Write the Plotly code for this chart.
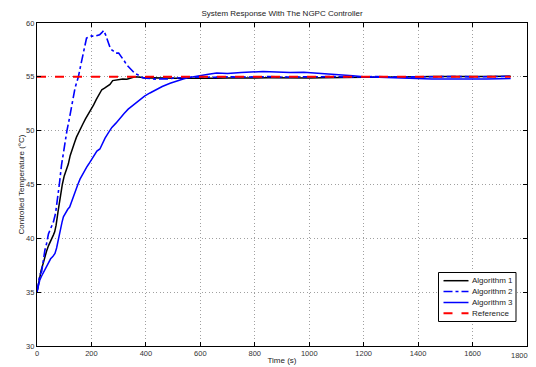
import plotly.graph_objects as go

# ---- data ----
t_alg1 = [0, 5, 10, 15, 23, 30, 35, 42, 48, 55, 60, 65, 70, 78, 85, 93, 100, 108, 115, 122, 130,
          138, 145, 152, 158, 168, 178, 188, 198, 208, 218, 228, 238, 248, 258, 268, 278, 290,
          300, 315, 330, 345, 360, 380, 400, 420, 450, 480, 510, 550, 600, 650, 700, 750, 800,
          850, 900, 950, 1000, 1050, 1100, 1150, 1200, 1250, 1300, 1350, 1400, 1450, 1500,
          1550, 1600, 1650, 1700, 1740]
alg1 = [35.0, 35.8, 36.4, 37.0, 37.7, 38.4, 38.8, 39.3, 39.7, 40.1, 40.3, 40.6, 41.2, 42.6, 43.8,
        45.0, 45.8, 46.3, 46.9, 47.7, 48.4, 48.9, 49.4, 49.8, 50.1, 50.6, 51.1, 51.5, 51.9,
        52.4, 52.9, 53.3, 53.8, 53.95, 54.1, 54.3, 54.65, 54.7, 54.72, 54.8, 54.78, 54.9,
        55.0, 54.95, 54.9, 54.92, 54.88, 54.9, 54.86, 54.88, 54.85, 54.87, 54.9, 54.88,
        54.9, 54.92, 54.9, 54.93, 54.9, 54.92, 54.95, 54.93, 54.96, 54.97, 55.0, 54.98,
        55.0, 55.02, 55.0, 55.02, 55.03, 55.02, 55.05, 55.05]

t_alg2 = [0, 5, 10, 17, 23, 29, 35, 42, 50, 60, 68, 75, 82, 90, 100, 110, 118, 125, 132, 140,
          146, 152, 160, 168, 175, 182, 190, 200, 210, 220, 230, 238, 245, 252, 260, 270, 280,
          290, 300, 310, 320, 330, 340, 350, 360, 370, 380, 390, 405, 420, 440, 460, 480,
          500, 530, 560, 600, 650, 700, 750, 800, 850, 900, 950, 1000, 1050, 1100, 1150,
          1200, 1250, 1300, 1350, 1400, 1450, 1500, 1550, 1600, 1650, 1700, 1740]
alg2 = [35.0, 36.0, 36.6, 36.9, 38.0, 38.9, 39.5, 40.4, 40.9, 41.5, 42.3, 43.5, 45.0, 46.8,
        48.5, 50.0, 51.0, 52.0, 53.0, 54.0, 54.5, 55.0, 56.0, 57.0, 57.9, 58.6, 58.7, 58.8,
        58.75, 58.85, 58.9, 59.1, 59.3, 58.9, 58.3, 57.6, 57.4, 57.2, 57.2, 56.9, 56.5,
        56.1, 55.8, 55.6, 55.3, 55.2, 55.0, 54.9, 54.85, 54.8, 54.78, 54.82, 54.8, 54.88,
        54.92, 54.95, 55.0, 54.95, 55.0, 54.97, 55.0, 55.02, 54.98, 55.0, 54.97, 55.0, 55.02,
        54.98, 55.0, 55.03, 54.98, 55.0, 55.02, 54.98, 55.0, 55.03, 55.0, 55.02, 55.0, 55.05]

t_alg3 = [0, 5, 10, 17, 23, 30, 36, 42, 50, 58, 66, 72, 78, 85, 92, 97, 105, 113, 120, 127,
          135, 142, 150, 158, 166, 174, 182, 190, 201, 210, 220, 231, 240, 250, 262, 275,
          290, 305, 320, 335, 350, 365, 378, 395, 415, 435, 460, 489, 510, 537, 560, 599,
          630, 660, 700, 750, 800, 830, 880, 930, 980, 1030, 1076, 1120, 1160, 1200, 1250,
          1300, 1350, 1400, 1450, 1500, 1550, 1600, 1650, 1700, 1740]
alg3 = [35.0, 35.7, 36.1, 36.5, 36.8, 37.2, 37.5, 37.8, 38.1, 38.3, 38.6, 39.1, 39.9, 40.8,
        41.5, 42.0, 42.4, 42.7, 42.9, 43.4, 44.0, 44.6, 45.0, 45.5, 45.9, 46.3, 46.6, 46.9,
        47.3, 47.7, 48.1, 48.3, 48.8, 49.3, 49.8, 50.3, 50.7, 51.1, 51.6, 52.0, 52.3, 52.6,
        52.85, 53.2, 53.5, 53.8, 54.1, 54.4, 54.6, 54.8, 54.95, 55.15, 55.25, 55.35, 55.3,
        55.4, 55.45, 55.5, 55.45, 55.4, 55.42, 55.35, 55.25, 55.2, 55.1, 55.0, 54.95, 54.9,
        54.85, 54.82, 54.8, 54.8, 54.78, 54.8, 54.8, 54.82, 54.85]

t_ref = [0, 1740]
ref = [55.0, 55.0]

x_ticks = [0, 200, 400, 600, 800, 1000, 1200, 1400, 1600, 1800]
y_ticks = [30, 35, 40, 45, 50, 55, 60]

series_names = ["Algorithm 1", "Algorithm 2", "Algorithm 3", "Reference"]
series_colors = ["black", "#0000ff", "#0000ff", "#ff0000"]
series_dash = ["solid", "dashdot", "solid", "dash"]
series_width = [1.5, 1.6, 1.5, 2.0]

FONT = "Liberation Sans, Arial, sans-serif"
OFF = 8                      # page body margin of the html page
W, H = 536, 367              # figure size (overflow past window is clipped)
# plot box in page pixels: left 37, right 527, top 23, bottom 346
ML, MT = 37 - OFF, 23 - OFF
MR, MB = W - (527 - OFF), H - (346 - OFF)
PW, PH = W - ML - MR, H - MT - MB

fig = go.Figure()
for tx, ty, nm, c, d, w in zip([t_alg1, t_alg2, t_alg3, t_ref], [alg1, alg2, alg3, ref],
                               series_names, series_colors, series_dash, series_width):
    fig.add_trace(go.Scatter(x=tx, y=ty, mode="lines", name=nm, showlegend=False,
                             line=dict(color=c, width=w, dash=d)))

# ---- compact legend box (MATLAB style), positions in page pixels ----
def px(xp):
    return (xp - OFF - ML) / PW

def py(yp):
    return (H - MB - (yp - OFF)) / PH

shapes = [dict(type="rect", xref="paper", yref="paper",
               x0=px(438.5), x1=px(516), y0=py(321.5), y1=py(272.5),
               line=dict(color="black", width=1), fillcolor="white", layer="above")]
annotations = []
rows = [280.7, 291.5, 302.5, 313.3]
for yy, nm, c, d, w in zip(rows, series_names, series_colors, series_dash, series_width):
    shapes.append(dict(type="line", xref="paper", yref="paper",
                       x0=px(443.5), x1=px(468.5), y0=py(yy), y1=py(yy),
                       line=dict(color=c, width=w, dash=d), layer="above"))
    annotations.append(dict(xref="paper", yref="paper", x=px(469.5), y=py(yy),
                            xanchor="left", yanchor="middle", text=nm, showarrow=False,
                            font=dict(size=8, color="#222", family=FONT)))

# last x tick label kept inside the visible window
x_ticktext = [str(v) for v in x_ticks]
x_ticktext[-1] = ""
annotations.append(dict(xref="x", yref="paper", x=x_ticks[-1], y=0, xanchor="right",
                        yanchor="top", xshift=3, yshift=-3, showarrow=False,
                        text=str(x_ticks[-1]),
                        font=dict(size=7.5, color="#333", family=FONT)))

axis_common = dict(
    showline=True, linecolor="black", linewidth=1.2, mirror="allticks",
    ticks="inside", ticklen=4, tickcolor="black", automargin=False,
    ticklabeloverflow="allow",
    showgrid=True, gridcolor="#a0a0a0", griddash="1px,2.5px", gridwidth=1,
    zeroline=False, tickfont=dict(size=7.5, color="#333", family=FONT),
)

fig.update_layout(
    width=W, height=H,
    margin=dict(l=ML, r=MR, t=MT, b=MB),
    plot_bgcolor="white", paper_bgcolor="white",
    font=dict(family=FONT, size=8, color="#222"),
    title=dict(text="System Response With The NGPC Controller", x=0.5, xref="paper",
               xanchor="center", y=1 - (13 - OFF) / H, yanchor="middle",
               font=dict(size=8, color="#222", family=FONT)),
    xaxis=dict(range=[0, 1800], tickvals=x_ticks, ticktext=x_ticktext,
               title=dict(text="Time (s)", standoff=0, font=dict(size=8)), **axis_common),
    yaxis=dict(range=[30, 60], tickvals=y_ticks,
               title=dict(text="Controlled Temperature (°C)", standoff=0, font=dict(size=8)),
               **axis_common),
    shapes=shapes,
    annotations=annotations,
    showlegend=False,
)

fig.write_html("out.html")
